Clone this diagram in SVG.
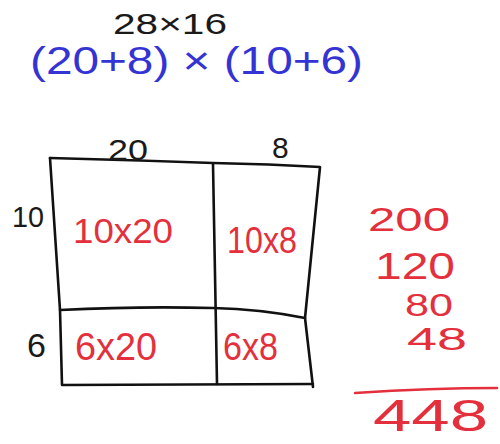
<svg xmlns="http://www.w3.org/2000/svg" width="500" height="444" viewBox="0 0 500 444">
<style>
text{font-family:"Liberation Sans",Arial,sans-serif}
.k{fill:#1a1a1a}
.b{fill:#3434d4}
.r{fill:#e4303c}
.ln{fill:none;stroke:#111;stroke-width:2.6;stroke-linecap:round;stroke-linejoin:round}
</style>
<rect width="500" height="444" fill="#fff"/>
<g id="title">
<text class="k" x="113" y="34" font-size="30" textLength="114" lengthAdjust="spacingAndGlyphs">28×16</text>
</g>
<g id="expansion">
<text class="b" x="30" y="74" font-size="38" textLength="333" lengthAdjust="spacingAndGlyphs">(20+8) × (10+6)</text>
</g>
<g id="connectors">
<path class="ln" d="M50,158 Q130,160 213,163 Q270,164 320,167 L305,318"/>
<path class="ln" d="M50,158 L60,310 L62,385 Q190,385 313,384"/>
<path class="ln" d="M60,310 Q140,306 213,308 Q260,309 305,318 L313,387"/>
<path class="ln" d="M213,164 L217,384"/>
</g>
<g id="labels">
<text class="k" x="108" y="160" font-size="30" textLength="40" lengthAdjust="spacingAndGlyphs">20</text>
<text class="k" x="272" y="158" font-size="30">8</text>
<text class="k" x="12" y="227" font-size="30" textLength="32" lengthAdjust="spacingAndGlyphs">10</text>
<text class="k" x="27" y="357" font-size="34">6</text>
</g>
<g id="cell-10x20"><text class="r" x="73" y="243" font-size="35" textLength="100" lengthAdjust="spacingAndGlyphs">10x20</text></g>
<g id="cell-10x8"><text class="r" x="227" y="253" font-size="36" textLength="70" lengthAdjust="spacingAndGlyphs">10x8</text></g>
<g id="cell-6x20"><text class="r" x="75" y="360" font-size="38" textLength="82" lengthAdjust="spacingAndGlyphs">6x20</text></g>
<g id="cell-6x8"><text class="r" x="223" y="360" font-size="38" textLength="55" lengthAdjust="spacingAndGlyphs">6x8</text></g>
<g id="sums">
<text class="r" x="368" y="231" font-size="34" textLength="82" lengthAdjust="spacingAndGlyphs">200</text>
<text class="r" x="375" y="279" font-size="36" textLength="80" lengthAdjust="spacingAndGlyphs">120</text>
<text class="r" x="405" y="316" font-size="32" textLength="48" lengthAdjust="spacingAndGlyphs">80</text>
<text class="r" x="407" y="350" font-size="32" textLength="60" lengthAdjust="spacingAndGlyphs">48</text>
<path d="M355,393 Q430,388 497,388" fill="none" stroke="#e4303c" stroke-width="2.5" stroke-linecap="round"/>
<text class="r" x="373" y="431" font-size="44" textLength="115" lengthAdjust="spacingAndGlyphs">448</text>
</g>
</svg>
